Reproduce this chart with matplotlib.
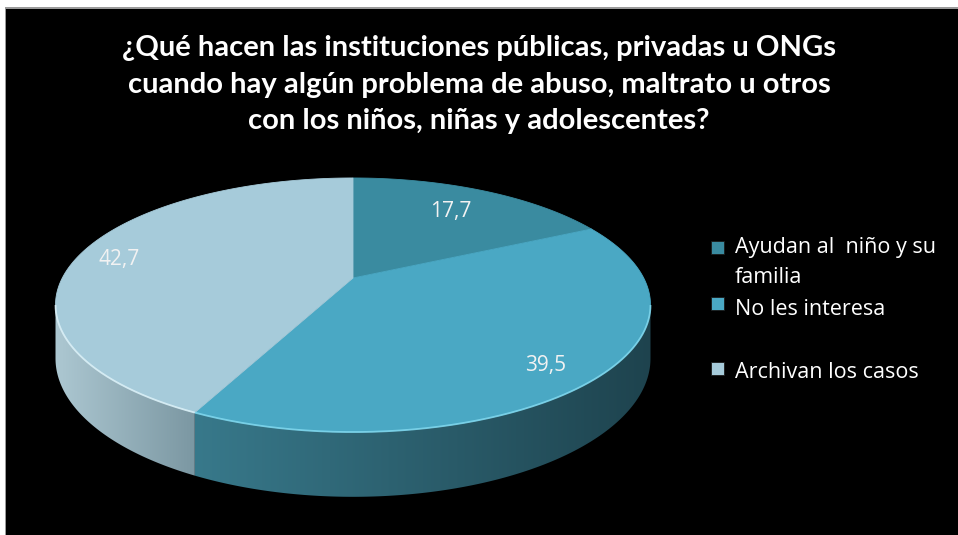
import numpy as np
import matplotlib
matplotlib.use("Agg")
import matplotlib.pyplot as plt
from matplotlib.patches import Polygon, Rectangle
from matplotlib.colors import to_rgb

# ---- data ----
title_lines = ["¿Qué hacen las instituciones públicas, privadas u ONGs",
               "cuando hay algún problema de abuso, maltrato u otros",
               "con los niños, niñas y adolescentes?"]
categories = ["Ayudan al  niño y su\nfamilia", "No les interesa", "Archivan los casos"]
values = [17.7, 39.5, 42.7]

# ---- style ----
top_colors = ["#3A8BA0", "#4AA8C4", "#A6CBDA"]
side_left = ["#3A8BA0", "#38798B", "#ADC8D2"]
side_right = ["#2A6070", "#1E434E", "#7B97A2"]
rim_colors = ["#6CC0D8", "#86DDF3", "#E2F6FC"]
label_pos = [(451, 212), (546, 365), (119, 259)]
legend_marker_y = [247, 303.5, 368.5]
legend_baselines = [[253, 283], [315], [378]]
TFONT = ["Lato", "DejaVu Sans"]
FONT = ["Open Sans", "DejaVu Sans"]

W, H = 958, 535
fig = plt.figure(figsize=(W / 100, H / 100), dpi=100)
fig.patch.set_facecolor("white")
ax = fig.add_axes([0, 0, 1, 1])
ax.set_xlim(0, W)
ax.set_ylim(H, 0)
ax.axis("off")

# frame
ax.add_patch(Rectangle((5, 7), W, H, facecolor="#9a9a9a", edgecolor="none", zorder=0))
ax.add_patch(Rectangle((6.5, 8.5), W, H, facecolor="black", edgecolor="none", zorder=0))

# pie geometry with perspective
cx, cy = 353, 278          # projected centre of the top disk
A, B, u = 290.7, 121.3, 0.2126
hdepth = 51.0


def pt(theta_deg, bottom=False):
    t = np.radians(theta_deg)
    z = 1 + u * np.cos(t)
    x = cx + A * np.sin(t) / z
    y = cy - B * np.cos(t) / z
    if bottom:
        y = y + hdepth / z
    return x, y


fr = np.array(values) / np.sum(values)
bounds = np.concatenate([[0], np.cumsum(fr) * 360])
th_r = np.degrees(np.arccos(-u))
th_l = 360 - th_r

# sides
for i in range(len(values)):
    t0, t1 = max(bounds[i], th_r), min(bounds[i + 1], th_l)
    if t1 <= t0:
        continue
    th = np.linspace(t0, t1, 240)
    xs, ys = pt(th)
    xb, yb = pt(th[::-1], bottom=True)
    poly = np.column_stack([np.concatenate([xs, xb]), np.concatenate([ys, yb])])
    patch = Polygon(poly, closed=True, facecolor="none", edgecolor="none", zorder=2)
    ax.add_patch(patch)
    x0, x1 = poly[:, 0].min(), poly[:, 0].max()
    y0, y1 = poly[:, 1].min(), poly[:, 1].max()
    c0, c1 = np.array(to_rgb(side_left[i])), np.array(to_rgb(side_right[i]))
    g = np.linspace(0, 1, 256)[None, :, None]
    img = np.repeat(c0 + (c1 - c0) * g, 2, axis=0)
    im = ax.imshow(img, extent=(x0 - 1, x1 + 1, y1 + 1, y0 - 1), aspect="auto",
                   zorder=2, interpolation="bilinear")
    im.set_clip_path(patch)

# tops
for i in range(len(values)):
    th = np.linspace(bounds[i], bounds[i + 1], 300)
    xs, ys = pt(th)
    poly = np.column_stack([np.concatenate([[cx], xs]), np.concatenate([[cy], ys])])
    ax.add_patch(Polygon(poly, closed=True, facecolor=top_colors[i],
                         edgecolor=top_colors[i], linewidth=0.6, zorder=3))
    t0, t1 = max(bounds[i], th_r), min(bounds[i + 1], th_l)
    if t1 > t0:
        th = np.linspace(t0, t1, 200)
        xs, ys = pt(th)
        ax.plot(xs, ys, color=rim_colors[i], lw=1.3, alpha=0.8, zorder=4,
                solid_capstyle="butt")

# data labels
for v, (lx, ly) in zip(values, label_pos):
    ax.text(lx, ly, f"{v:.1f}".replace(".", ","), color="#F2F2F2",
            fontsize=15, family=FONT, ha="center", va="center", zorder=5)

# title
for k, line in enumerate(title_lines):
    ax.text(479, 48 + 36.5 * k, line, color="white", fontsize=21,
            fontweight="bold", family=TFONT, ha="center", va="center", zorder=5)

# legend
for i, cat in enumerate(categories):
    my = legend_marker_y[i]
    ax.add_patch(Rectangle((711, my - 6.5), 13, 13, facecolor=top_colors[i],
                           edgecolor="#1a1a1a", linewidth=0.6, zorder=5))
    for line, bl in zip(cat.split("\n"), legend_baselines[i]):
        ax.text(735, bl, line, color="white", fontsize=15.5, family=FONT,
                ha="left", va="baseline", zorder=5)

fig.savefig("out.png", dpi=100, facecolor=fig.get_facecolor())
